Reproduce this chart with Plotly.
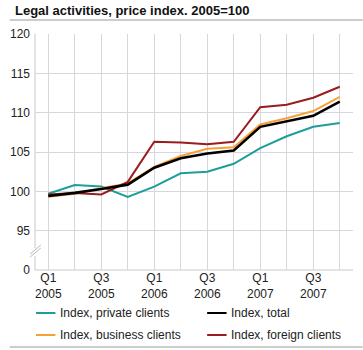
import plotly.graph_objects as go

quarters = ["Q1 2005", "Q2 2005", "Q3 2005", "Q4 2005",
            "Q1 2006", "Q2 2006", "Q3 2006", "Q4 2006",
            "Q1 2007", "Q2 2007", "Q3 2007", "Q4 2007"]
tick_labels = ["Q1<br>2005", "", "Q3<br>2005", "", "Q1<br>2006", "", "Q3<br>2006", "",
               "Q1<br>2007", "", "Q3<br>2007", ""]
private = [99.7, 100.8, 100.6, 99.3, 100.6, 102.3, 102.5, 103.5, 105.5, 107.0, 108.2, 108.7]
business = [99.3, 99.7, 100.4, 101.0, 103.1, 104.5, 105.4, 105.6, 108.5, 109.3, 110.2, 112.0]
foreign = [99.6, 99.8, 99.6, 101.2, 106.3, 106.2, 106.0, 106.3, 110.7, 111.0, 111.9, 113.3]
total = [99.4, 99.8, 100.3, 100.85, 103.0, 104.2, 104.8, 105.2, 108.2, 108.9, 109.6, 111.4]
y_ticks = [90, 95, 100, 105, 110, 115, 120]
y_tick_labels = ["0", "95", "100", "105", "110", "115", "120"]

series = [
    ("Index, private clients", private, "#1e9e99", 2),
    ("Index, business clients", business, "#f7a03a", 2),
    ("Index, foreign clients", foreign, "#9b1c20", 2),
    ("Index, total", total, "#000000", 2.6),
]

x = list(range(len(quarters)))
fig = go.Figure()
for name, vals, col, w in series:
    fig.add_trace(go.Scatter(x=x, y=vals, name=name, mode="lines",
                             line=dict(color=col, width=w), showlegend=False,
                             hovertext=quarters))

FONT = "Liberation Sans, Arial, sans-serif"
W, H = 363, 350
ml, mr, mt, mb = 26, 10, 34, 80

fig.update_layout(
    width=W, height=H, margin=dict(l=ml, r=mr, t=mt, b=mb),
    paper_bgcolor="white", plot_bgcolor="white",
    font=dict(family=FONT, size=12, color="#222"),
    xaxis=dict(range=[-0.5, 11.5], tickmode="array", tickvals=x,
               ticktext=[""] * len(x),
               showgrid=True, gridcolor="#d6d6dc", gridwidth=1, zeroline=False,
               showline=False, ticks=""),
    yaxis=dict(range=[90, 120], tickmode="array", tickvals=y_ticks, ticktext=y_tick_labels,
               showgrid=True, gridcolor="#d6d6dc", gridwidth=1, zeroline=False,
               showline=False, ticks="", ticklabelstandoff=4,
               tickfont=dict(size=12, color="#222")),
)

def px_x(p):
    return (p - ml) / (W - ml - mr)
def px_y(p):
    return 1 - (p - mt) / (H - mt - mb)

shapes = []
shapes.append(dict(type="line", xref="paper", yref="paper", x0=0, x1=0, y0=0, y1=1,
                   line=dict(color="#c8c8ce", width=1), layer="below"))
shapes.append(dict(type="line", xref="paper", yref="paper", x0=0, x1=1, y0=0, y1=0,
                   line=dict(color="#c8c8ce", width=1), layer="below"))
shapes.append(dict(type="line", xref="paper", yref="paper", x0=px_x(0), x1=px_x(W),
                   y0=px_y(20), y1=px_y(20), line=dict(color="#999", width=1)))
shapes.append(dict(type="line", xref="paper", yref="paper", x0=px_x(0), x1=px_x(W),
                   y0=px_y(347), y1=px_y(347), line=dict(color="#999", width=1)))
shapes.append(dict(type="rect", xref="paper", yref="paper", x0=px_x(24), x1=px_x(28),
                   y0=px_y(256), y1=px_y(248), fillcolor="white", line=dict(width=0)))
for off in (0, 3):
    shapes.append(dict(type="line", xref="paper", yref="paper",
                       x0=px_x(21), y0=px_y(256 + off - 2), x1=px_x(32), y1=px_y(247 + off - 2),
                       line=dict(color="#b8b8c0", width=1)))

annotations = [dict(text="<b>Legal activities, price index. 2005=100</b>", xref="paper", yref="paper",
                    x=px_x(3), y=px_y(10), xanchor="left", yanchor="middle", showarrow=False,
                    font=dict(size=13, color="#111", family=FONT))]

# two-line x tick labels
for xi, lab in zip(x, tick_labels):
    if not lab:
        continue
    annotations.append(dict(text=lab, xref="x", yref="paper", x=xi, y=px_y(286),
                            xanchor="center", yanchor="middle", showarrow=False,
                            borderpad=0,
                            font=dict(size=12, color="#222", family=FONT)))

legend_pos = [(27, 313), (27, 335), (203, 335), (203, 313)]
for (name, vals, col, w), (lx, ly) in zip(series, legend_pos):
    shapes.append(dict(type="line", xref="paper", yref="paper", x0=px_x(lx), x1=px_x(lx + 20),
                       y0=px_y(ly), y1=px_y(ly), line=dict(color=col, width=2)))
    annotations.append(dict(text=name, xref="paper", yref="paper", x=px_x(lx + 23), y=px_y(ly),
                            xanchor="left", yanchor="middle", showarrow=False,
                            font=dict(size=12, color="#222", family=FONT)))

fig.update_layout(shapes=shapes, annotations=annotations)
fig.write_html("out.html")
